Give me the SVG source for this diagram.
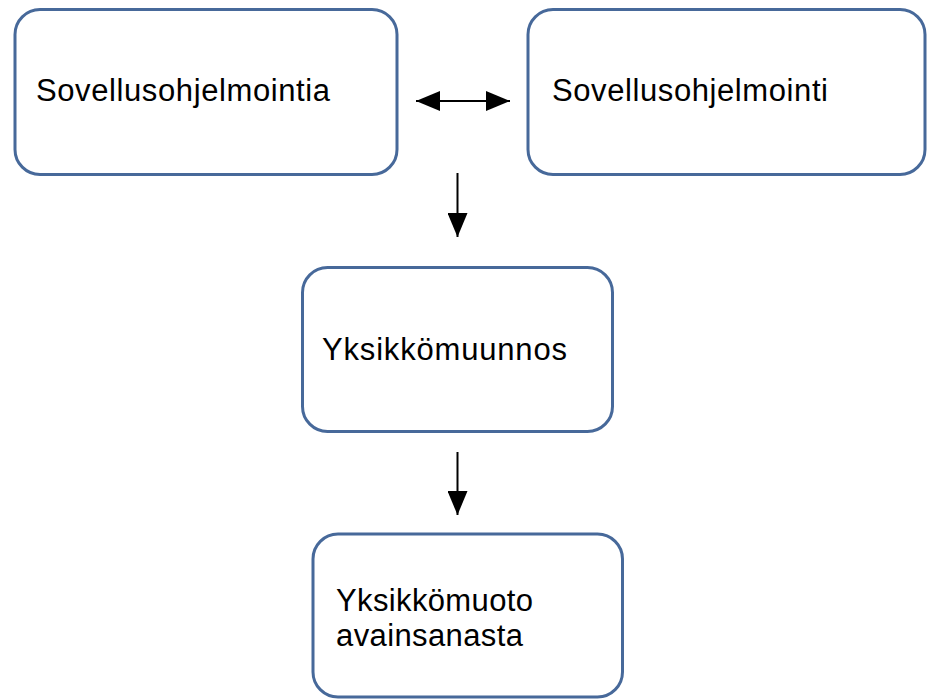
<svg xmlns="http://www.w3.org/2000/svg" width="929" height="700" viewBox="0 0 929 700">
  <style>
    .box { fill: #ffffff; stroke: #47699a; stroke-width: 3; }
    .label { font-family: "Liberation Sans", Arial, sans-serif; font-size: 31px; fill: #000000; }
    .link { stroke: #000000; stroke-width: 2; fill: none; }
  </style>
  <defs>
    <marker id="head" viewBox="0 0 24 20" refX="24" refY="10" markerWidth="24" markerHeight="20" markerUnits="userSpaceOnUse" orient="auto-start-reverse">
      <path d="M0,0 L24,10 L0,20 Z" fill="#000000"/>
    </marker>
  </defs>
  <rect width="929" height="700" fill="#ffffff"/>

  <g id="node-sovellusohjelmointia">
    <rect class="box" x="15" y="9.5" width="382" height="165" rx="25"/>
    <text class="label" x="36" y="101" textLength="294" lengthAdjust="spacing">Sovellusohjelmointia</text>
  </g>

  <g id="node-sovellusohjelmointi">
    <rect class="box" x="528" y="9.5" width="397" height="165" rx="25"/>
    <text class="label" x="552" y="101" textLength="276" lengthAdjust="spacing">Sovellusohjelmointi</text>
  </g>

  <g id="node-yksikkomuunnos">
    <rect class="box" x="302.5" y="267.5" width="310" height="164" rx="25"/>
    <text class="label" x="322" y="360" textLength="245" lengthAdjust="spacing">Yksikkömuunnos</text>
  </g>

  <g id="node-yksikkomuoto">
    <rect class="box" x="313" y="534" width="309.5" height="163" rx="25"/>
    <text class="label" x="336" y="611" textLength="197" lengthAdjust="spacing">Yksikkömuoto</text>
    <text class="label" x="336" y="646" textLength="187" lengthAdjust="spacing">avainsanasta</text>
  </g>

  <g id="connectors">
    <line class="link" x1="416" y1="101" x2="510" y2="101" marker-start="url(#head)" marker-end="url(#head)"/>
    <line class="link" x1="457.5" y1="173" x2="457.5" y2="237" marker-end="url(#head)"/>
    <line class="link" x1="457.5" y1="452" x2="457.5" y2="515" marker-end="url(#head)"/>
  </g>
</svg>
